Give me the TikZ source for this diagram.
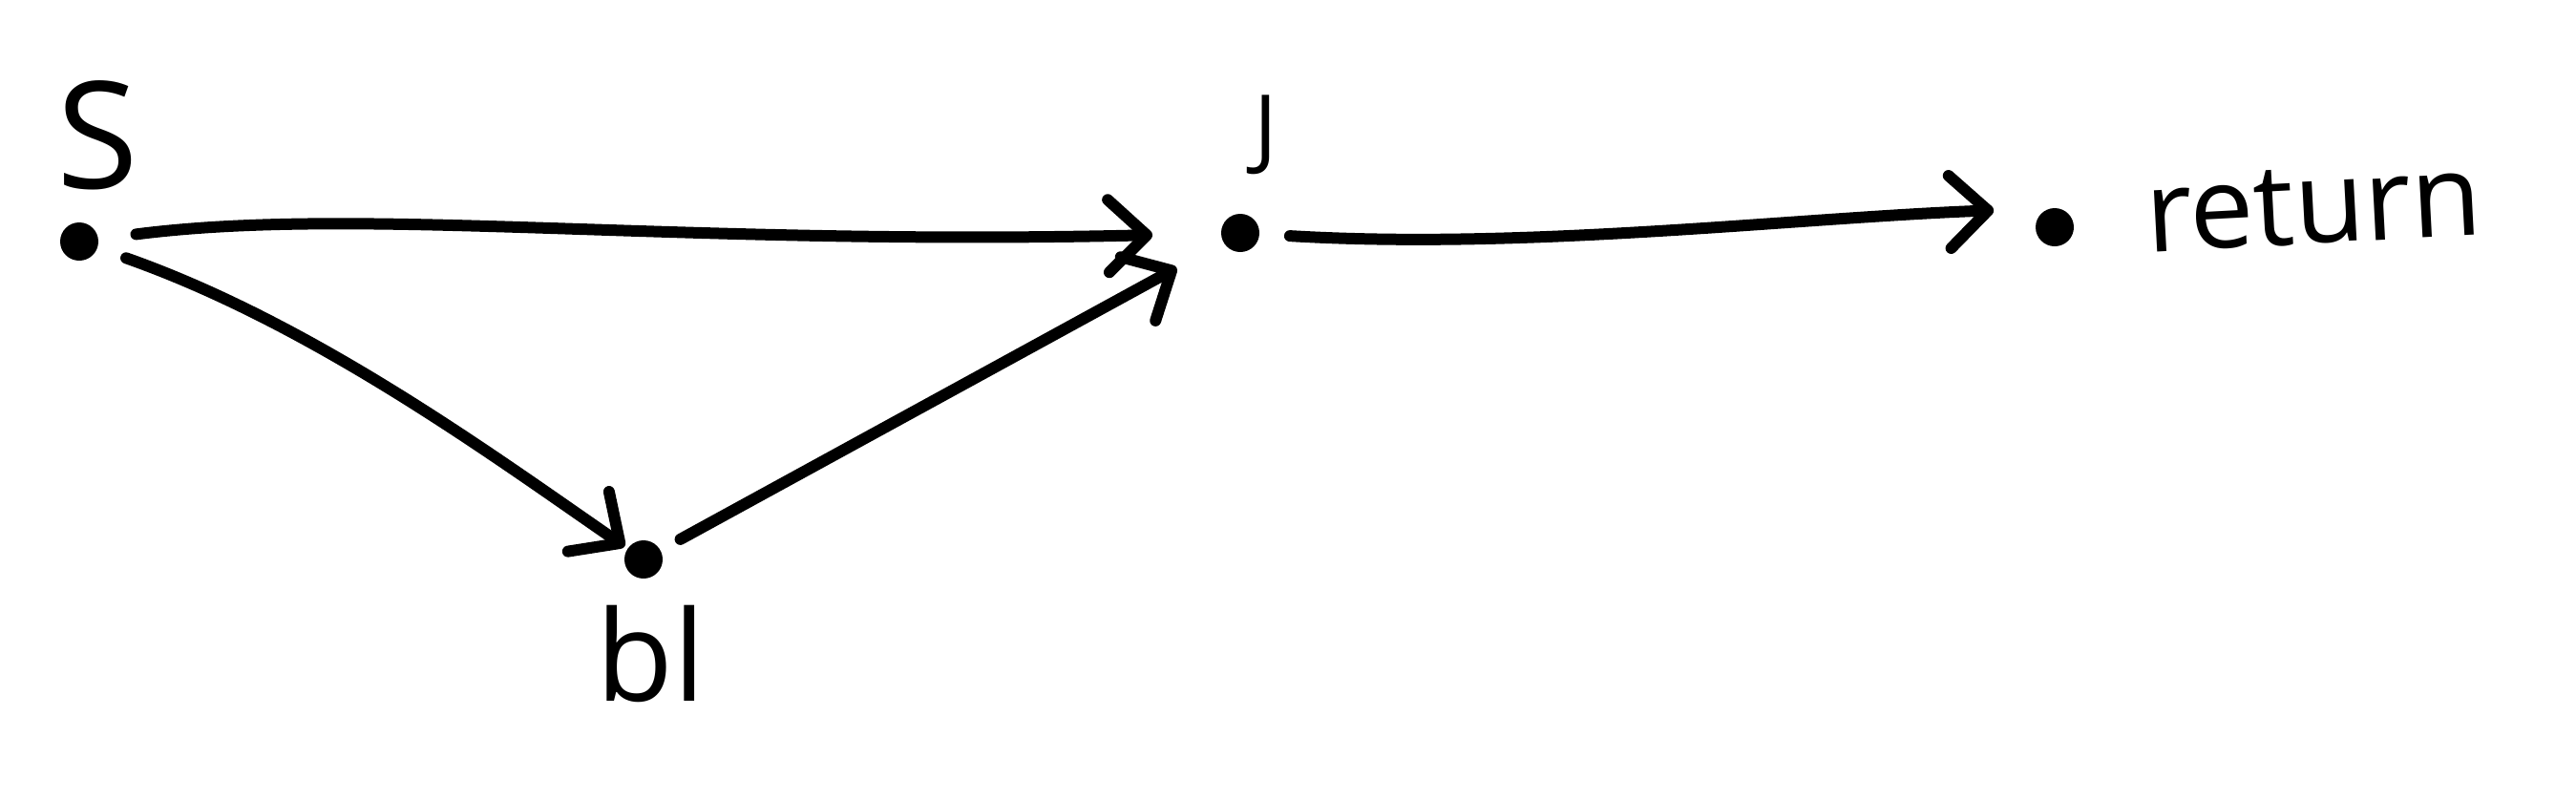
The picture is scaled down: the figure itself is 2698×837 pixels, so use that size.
\documentclass[tikz,border=0pt]{standalone}
\usepackage{fontspec}
\setmainfont{Open Sans}
\usetikzlibrary{arrows.meta}

\begin{document}
\begin{tikzpicture}[x=0.25pt,y=-0.25pt,
  dot/.style={circle,fill=black,inner sep=0pt,minimum size=10pt,outer sep=6pt},
  edge/.style={line width=3pt,line cap=round,line join=round,
    -{Straight Barb[length=10pt,width=19pt,line width=3pt,line cap=round,line join=round]}},
  lbl/.style={inner sep=0pt}]
\useasboundingbox (0,0) rectangle (2698,837);
% points:
\node[dot] (s) at (83,253) {};
\node[dot] (bl) at (674,586) {};
\node[dot] (j) at (1299,244) {};
\node[dot] (ret) at (2152,238) {};
% labels:
\node[lbl] (s-label) at (102,142) {\fontsize{39}{39}\selectfont S};
\node[lbl] (bl-label) at (682,685) {\fontsize{33}{33}\selectfont bl};
\node[lbl] (j-label) at (1326,141) {\fontsize{23}{23}\selectfont J};
\node[lbl,rotate=3] (ret-label) at (2423,216) {\fontsize{30}{30}\selectfont return};
% edges:
\draw[edge,shorten <=4pt,shorten >=12pt] (s) .. controls (380,215) and (700,258) .. (j);
\draw[edge,shorten <=2pt,shorten >=-5pt] (s) .. controls (330,340) and (520,480) .. (bl);
\draw[edge,shorten >=8pt] (bl) -- (j);
\draw[edge,shorten <=2pt,shorten >=6pt] (j) .. controls (1600,262) and (1880,228) .. (ret.155);
\end{tikzpicture}
\end{document}
